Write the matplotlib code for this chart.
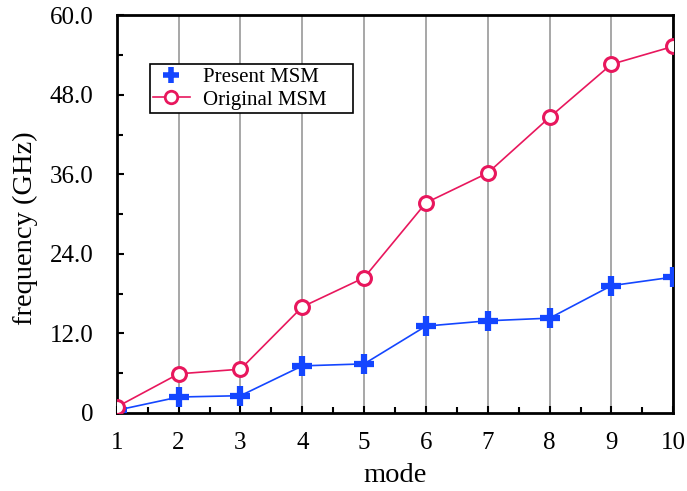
import matplotlib.pyplot as plt
from matplotlib.lines import Line2D
from matplotlib.ticker import MultipleLocator, FixedLocator

plt.rcParams['font.family'] = ['Liberation Serif', 'DejaVu Serif']

modes = [1, 2, 3, 4, 5, 6, 7, 8, 9, 10]
present_msm = [0.4, 2.4, 2.6, 7.1, 7.4, 13.1, 13.9, 14.3, 19.2, 20.5]
original_msm = [0.9, 5.9, 6.6, 16.0, 20.4, 31.7, 36.2, 44.6, 52.6, 55.3]
y_ticks = [0, 12, 24, 36, 48, 60]
y_labels = ['0', '12.0', '24.0', '36.0', '48.0', '60.0']

blue = '#1446ff'
red = '#e8175d'

fig = plt.figure(figsize=(6.87, 4.91), dpi=100)
ax = fig.add_axes([0.170, 0.159, 0.810, 0.810])

# vertical grid at each mode
for m in modes:
    ax.axvline(m, color='#a0a0a0', lw=1.3, zorder=0)

ax.plot(modes, present_msm, color=blue, lw=1.2, marker='+',
        markersize=14, markeredgewidth=4.5, zorder=3)
ax.plot(modes, original_msm, color=red, lw=1.2, marker='o',
        markersize=10, markerfacecolor='white', markeredgewidth=2.2,
        zorder=4)

ax.set_xlim(1, 10)
ax.set_ylim(0, 60)
ax.set_xticks(modes)
ax.xaxis.set_minor_locator(MultipleLocator(0.5))
ax.yaxis.set_major_locator(FixedLocator(y_ticks))
ax.set_yticklabels(y_labels)
ax.yaxis.set_minor_locator(MultipleLocator(6))
ax.tick_params(which='both', direction='in', labelsize=18, width=1.5)
ax.tick_params(which='major', length=5)
ax.tick_params(which='minor', length=4)
ax.tick_params(axis='y', pad=17)
ax.tick_params(axis='x', pad=14)
for s in ax.spines.values():
    s.set_linewidth(2)

ax.set_xlabel('mode', fontsize=20.5, labelpad=6)
ax.set_ylabel('frequency (GHz)', fontsize=20.5)
ax.yaxis.set_label_coords(-0.142, 0.465)

handles = [
    Line2D([], [], color=blue, lw=0, marker='+', markersize=12,
           markeredgewidth=4),
    Line2D([], [], color=red, lw=1.2, marker='o', markersize=9,
           markerfacecolor='white', markeredgewidth=2),
]
leg = ax.legend(handles, ['Present MSM', 'Original MSM'], loc='upper left',
                bbox_to_anchor=(0.059, 0.877, 0.365, 0.0), mode='expand',
                fontsize=15, frameon=True, fancybox=False, edgecolor='black',
                borderpad=0.15, handletextpad=0.6, labelspacing=0.15,
                handlelength=1.8, borderaxespad=0)
leg.get_frame().set_linewidth(1.2)
leg.get_frame().set_alpha(1)

fig.savefig('out.png', dpi=100)
